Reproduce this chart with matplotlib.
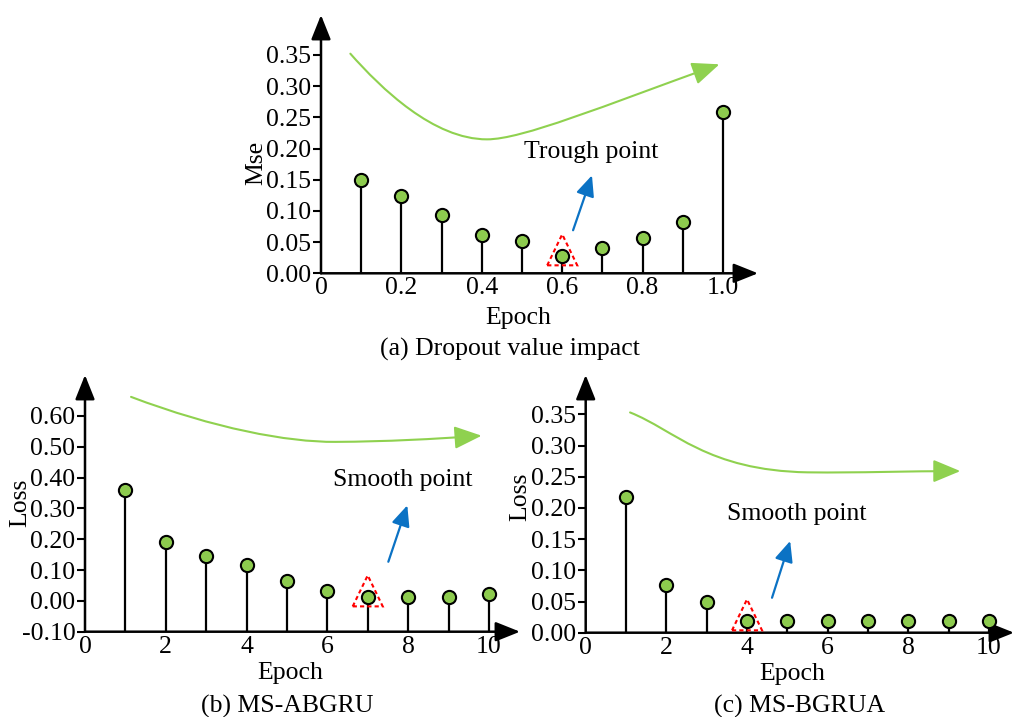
import matplotlib.pyplot as plt
import numpy as np
from matplotlib.patches import FancyArrowPatch, Polygon
from matplotlib.path import Path
from matplotlib.transforms import ScaledTranslation

plt.rcParams['font.family'] = ['Liberation Serif', 'DejaVu Serif']
plt.rcParams['font.size'] = 18.5

# data
dropout = [0.1, 0.2, 0.3, 0.4, 0.5, 0.6, 0.7, 0.8, 0.9, 1.0]
mse = [0.149, 0.124, 0.093, 0.062, 0.051, 0.028, 0.041, 0.056, 0.082, 0.258]

epochs = [1, 2, 3, 4, 5, 6, 7, 8, 9, 10]
loss_abgru = [0.36, 0.19, 0.146, 0.115, 0.064, 0.031, 0.013, 0.013, 0.013, 0.021]
loss_bgrua = [0.218, 0.076, 0.049, 0.019, 0.019, 0.019, 0.019, 0.019, 0.019, 0.019]

top_xticks = [0, 0.2, 0.4, 0.6, 0.8, 1.0]
top_xlabels = ['0', '0.2', '0.4', '0.6', '0.8', '1.0']
top_yticks = [0.0, 0.05, 0.10, 0.15, 0.20, 0.25, 0.30, 0.35]
b_xticks = [0, 2, 4, 6, 8, 10]
bl_yticks = [-0.1, 0.0, 0.1, 0.2, 0.3, 0.4, 0.5, 0.6]
br_yticks = [0.0, 0.05, 0.10, 0.15, 0.20, 0.25, 0.30, 0.35]

GREEN = '#8DCB4E'
CURVE = '#8FD14F'
BLUE = '#0B72C4'
W, H = 1016, 717

fig = plt.figure(figsize=(W / 100, H / 100), dpi=100)


def px_axes(x0, y0, x1, y1):
    # pixel box -> axes
    return fig.add_axes([x0 / W, 1 - y1 / H, (x1 - x0) / W, (y1 - y0) / H])


def ftext(x, y, s, **kw):
    fig.text(x / W, 1 - y / H, s, ha='center', va='center', **kw)


def setup(ax, xlim, ylim, xticks, xlabels, yticks, yfmt):
    ax.set_xlim(*xlim)
    ax.set_ylim(*ylim)
    for s in ax.spines.values():
        s.set_visible(False)
    ax.set_xticks(xticks)
    ax.set_xticklabels(xlabels)
    ax.set_yticks(yticks)
    ax.set_yticklabels([yfmt % v for v in yticks])
    ax.tick_params(axis='x', length=0, pad=3)
    ax.tick_params(axis='y', length=6, width=1.5, direction='out', pad=1)
    ax.patch.set_alpha(0)
    ap = dict(arrowstyle='-|>,head_length=0.75,head_width=0.3', color='k',
              lw=1.8, mutation_scale=20, shrinkA=0, shrinkB=0)
    ax.annotate('', xy=(0, 1), xytext=(0, 0), xycoords='axes fraction', arrowprops=ap)
    ax.annotate('', xy=(1, 0), xytext=(0, 0), xycoords='axes fraction', arrowprops=ap)


def stems(ax, x, y, base):
    ax.vlines(x, base, y, color='k', lw=1.6, zorder=3)
    ax.plot(x, y, 'o', ms=9.5, mfc=GREEN, mec='k', mew=1.5, zorder=4)


def curve(ax, verts, codes):
    p = FancyArrowPatch(path=Path(verts, codes),
                        arrowstyle='-|>,head_length=1.2,head_width=0.5',
                        mutation_scale=14, color=CURVE, lw=1.5)
    ax.add_patch(p)


def blue_arrow(ax, tail, tip):
    ax.annotate('', xy=tip, xytext=tail,
                arrowprops=dict(arrowstyle='-|>,head_length=0.9,head_width=0.4',
                                color=BLUE, lw=1.6, mutation_scale=14,
                                shrinkA=0, shrinkB=0))


def triangle(ax, x, y):
    tr = fig.dpi_scale_trans + ScaledTranslation(x, y, ax.transData)
    tri = Polygon([(-0.15, -0.095), (0.15, -0.095), (0, 0.215)], closed=True,
                  fill=False, ec='red', lw=1.5, ls=(0, (2, 1.5)),
                  transform=tr, zorder=5)
    ax.add_patch(tri)


C4 = [Path.MOVETO, Path.CURVE4, Path.CURVE4, Path.CURVE4,
      Path.CURVE4, Path.CURVE4, Path.CURVE4]

# (a)
ax = px_axes(321, 15, 758, 273.3)
setup(ax, (0, 1.087), (0, 0.414), top_xticks, top_xlabels, top_yticks, '%.2f')
stems(ax, dropout, mse, 0)
triangle(ax, dropout[5], mse[5])
curve(ax, [(0.073, 0.352), (0.15, 0.296), (0.28, 0.2147), (0.413, 0.2147),
           (0.5, 0.2147), (0.7, 0.2675), (0.991, 0.335)], C4)
blue_arrow(ax, (0.627, 0.069), (0.674, 0.157))
ax.text(0.673, 0.195, 'Trough point', ha='center', va='center')
ftext(256, 163, 'Mse', rotation=90)
ftext(518, 318, 'Epoch')
ftext(510, 349, '(a) Dropout value impact')

# (b)
ax = px_axes(85, 375, 520, 631.7)
setup(ax, (0, 10.77), (-0.1, 0.733), b_xticks, [str(v) for v in b_xticks],
      bl_yticks, '%.2f')
stems(ax, epochs, loss_abgru, -0.1)
triangle(ax, epochs[6], loss_abgru[6])
curve(ax, [(1.14, 0.662), (3.2, 0.56), (5.0, 0.515), (6.2, 0.516),
           (7.5, 0.517), (8.6, 0.525), (9.82, 0.536)], C4)
blue_arrow(ax, (7.51, 0.127), (7.98, 0.31))
ax.text(7.87, 0.392, 'Smooth point', ha='center', va='center')
ftext(20, 503, 'Loss', rotation=90)
ftext(290, 673, 'Epoch')
ftext(287, 706, '(b) MS-ABGRU')

# (c)
ax = px_axes(585.7, 375, 1014, 632.7)
setup(ax, (0, 10.62), (0, 0.413), b_xticks, [str(v) for v in b_xticks],
      br_yticks, '%.2f')
stems(ax, epochs, loss_bgrua, 0)
triangle(ax, epochs[3], loss_bgrua[3])
curve(ax, [(1.1, 0.353), (2.2, 0.325), (3.0, 0.26), (5.5, 0.257),
           (6.8, 0.256), (8.0, 0.259), (9.29, 0.259)], C4)
blue_arrow(ax, (4.62, 0.056), (5.07, 0.147))
ax.text(5.24, 0.191, 'Smooth point', ha='center', va='center')
ftext(520, 497, 'Loss', rotation=90)
ftext(792, 674, 'Epoch')
ftext(800, 706, '(c) MS-BGRUA')

fig.savefig('out.png', dpi=100)
